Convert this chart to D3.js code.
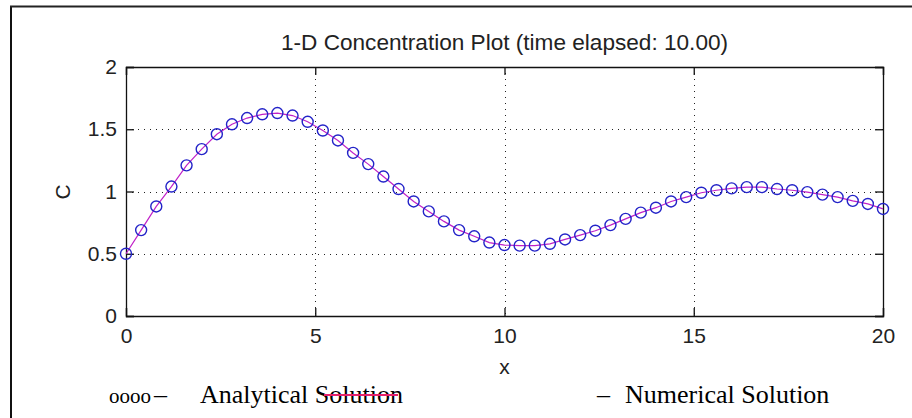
<!DOCTYPE html>
<html>
<head>
<meta charset="utf-8">
<script src="https://cdn.jsdelivr.net/npm/d3@7"></script>
<style>
  html, body { margin: 0; padding: 0; background: #fff; }
  svg { display: block; }
</style>
</head>
<body>
<svg id="chart" width="912" height="418"></svg>
<script>
// ---- data ----
const chartTitle = "1-D Concentration Plot (time elapsed: 10.00)";
const xLabel = "x";
const yLabel = "C";
const xTicks = [0, 5, 10, 15, 20];
const yTicks = [0, 0.5, 1, 1.5, 2];
const xValues = [0, 0.4, 0.8, 1.2, 1.6, 2.0, 2.4, 2.8, 3.2, 3.6,
                 4.0, 4.4, 4.8, 5.2, 5.6, 6.0, 6.4, 6.8, 7.2, 7.6,
                 8.0, 8.4, 8.8, 9.2, 9.6, 10.0, 10.4, 10.8, 11.2, 11.6,
                 12.0, 12.4, 12.8, 13.2, 13.6, 14.0, 14.4, 14.8, 15.2, 15.6,
                 16.0, 16.4, 16.8, 17.2, 17.6, 18.0, 18.4, 18.8, 19.2, 19.6, 20.0];
const analytical = [0.50, 0.69, 0.88, 1.04, 1.21, 1.34, 1.46, 1.54, 1.59, 1.62,
                    1.63, 1.61, 1.56, 1.49, 1.41, 1.31, 1.22, 1.12, 1.02, 0.92,
                    0.84, 0.76, 0.69, 0.64, 0.59, 0.57, 0.565, 0.565, 0.58, 0.615,
                    0.65, 0.685, 0.73, 0.78, 0.83, 0.87, 0.92, 0.955, 0.99, 1.01,
                    1.025, 1.035, 1.035, 1.02, 1.01, 0.995, 0.975, 0.955, 0.925, 0.90, 0.86];
const numerical = [0.50, 0.69, 0.88, 1.04, 1.21, 1.34, 1.46, 1.54, 1.59, 1.62,
                   1.63, 1.61, 1.56, 1.49, 1.41, 1.31, 1.22, 1.12, 1.02, 0.92,
                   0.84, 0.76, 0.69, 0.64, 0.59, 0.57, 0.565, 0.565, 0.58, 0.615,
                   0.65, 0.685, 0.73, 0.78, 0.83, 0.87, 0.92, 0.955, 0.99, 1.01,
                   1.025, 1.035, 1.035, 1.02, 1.01, 0.995, 0.975, 0.955, 0.925, 0.90, 0.86];
const legendAnalytical = ["oooo", "–", "Analytical Solution"];
const legendNumerical = ["–", "Numerical Solution"];

// ---- layout ----
const svg = d3.select("#chart");
const L = 126, R = 883, T = 67, B = 316;
const x = d3.scaleLinear().domain([0, 20]).range([L, R]);
const y = d3.scaleLinear().domain([0, 2]).range([B, T]);
const sans = "'Liberation Sans', Arial, sans-serif";
const serif = "'Liberation Serif', 'Times New Roman', serif";

// outer frame (left + top edges)
svg.append("line").attr("x1", 11).attr("x2", 11).attr("y1", 6).attr("y2", 418)
  .attr("stroke", "#111").attr("stroke-width", 2);
svg.append("line").attr("x1", 10).attr("x2", 912).attr("y1", 6.5).attr("y2", 6.5)
  .attr("stroke", "#222").attr("stroke-width", 2);

// grid
const grid = svg.append("g").attr("stroke", "#222").attr("stroke-width", 1)
  .attr("stroke-dasharray", "1,5");
grid.selectAll(".gx").data(xTicks.filter(d => d > 0 && d < 20)).join("line")
  .attr("x1", d => Math.round(x(d)) + 0.5).attr("x2", d => Math.round(x(d)) + 0.5)
  .attr("y1", T).attr("y2", B);
grid.selectAll(".gy").data(yTicks.filter(d => d > 0 && d < 2)).join("line")
  .attr("y1", d => Math.round(y(d)) + 0.5).attr("y2", d => Math.round(y(d)) + 0.5)
  .attr("x1", L).attr("x2", R);

// axes via d3
const tk = 8;
const axB = svg.append("g").attr("transform", `translate(0,${B})`)
  .call(d3.axisBottom(x).tickValues(xTicks).tickSize(-tk).tickPadding(12).tickFormat(d3.format("d")));
const axT = svg.append("g").attr("transform", `translate(0,${T})`)
  .call(d3.axisTop(x).tickValues(xTicks).tickSize(-tk).tickFormat(""));
const axL = svg.append("g").attr("transform", `translate(${L},0)`)
  .call(d3.axisLeft(y).tickValues(yTicks).tickSize(-tk).tickPadding(9).tickFormat(d => d3.format("")(d)));
const axR = svg.append("g").attr("transform", `translate(${R},0)`)
  .call(d3.axisRight(y).tickValues(yTicks).tickSize(-tk).tickFormat(""));
[axB, axT, axL, axR].forEach(a => {
  a.select(".domain").attr("stroke", "#111").attr("stroke-width", 1.3);
  a.selectAll(".tick line").attr("stroke", "#111").attr("stroke-width", 1.3);
  a.selectAll("text").attr("font-family", sans).attr("font-size", 21).attr("fill", "#222");
});

// numerical line
const line = d3.line().x((d, i) => x(xValues[i])).y(d => y(d));
svg.append("path").datum(numerical).attr("d", line)
  .attr("fill", "none").attr("stroke", "#c021c8").attr("stroke-width", 1.2);

// analytical circles
svg.append("g").selectAll("circle").data(analytical).join("circle")
  .attr("cx", (d, i) => x(xValues[i])).attr("cy", d => y(d)).attr("r", 5.5)
  .attr("fill", "none").attr("stroke", "#2323c8").attr("stroke-width", 1.4);

// title and labels
svg.append("text").attr("x", (L + R) / 2).attr("y", 50).attr("text-anchor", "middle")
  .attr("font-family", sans).attr("font-size", 22.6).attr("fill", "#222").text(chartTitle);
svg.append("text").attr("x", (L + R) / 2).attr("y", 374).attr("text-anchor", "middle")
  .attr("font-family", sans).attr("font-size", 21).attr("fill", "#222").text(xLabel);
svg.append("text").attr("transform", "translate(70,192) rotate(-90)").attr("text-anchor", "middle")
  .attr("font-family", sans).attr("font-size", 21).attr("fill", "#222").text(yLabel);

// legend texts
const lg = svg.append("g").attr("font-family", serif).attr("font-size", 26).attr("fill", "#000");
lg.append("text").attr("x", 109).attr("y", 403).attr("font-size", 21).text(legendAnalytical[0]);
lg.append("text").attr("x", 154).attr("y", 403).text(legendAnalytical[1]);
lg.append("text").attr("x", 200).attr("y", 403).text(legendAnalytical[2]);
svg.append("line").attr("x1", 324).attr("x2", 398).attr("y1", 395).attr("y2", 395)
  .attr("stroke", "#e5206c").attr("stroke-width", 2);
lg.append("text").attr("x", 597).attr("y", 403).text(legendNumerical[0]);
lg.append("text").attr("x", 625).attr("y", 403).text(legendNumerical[1]);
</script>
</body>
</html>
